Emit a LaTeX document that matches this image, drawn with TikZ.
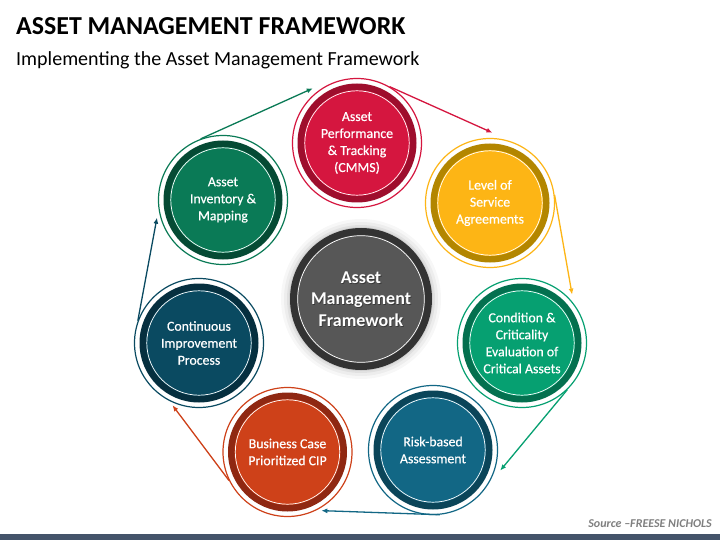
\documentclass[tikz,border=0pt]{standalone}
\usepackage{fontspec}
\setmainfont{Carlito}
\newfontfamily\lblfont{Carlito}[FakeBold=0.5]
\usetikzlibrary{arrows.meta,calc}
\definecolor{perfC}{HTML}{D5163F}\definecolor{perfD}{HTML}{9E0E2D}
\definecolor{levC}{HTML}{FDB515}\definecolor{levD}{HTML}{B38600}
\definecolor{condC}{HTML}{06A071}\definecolor{condD}{HTML}{04704F}
\definecolor{riskC}{HTML}{126785}\definecolor{riskD}{HTML}{0B4559}
\definecolor{busC}{HTML}{CE4119}\definecolor{busD}{HTML}{8F2812}
\definecolor{contC}{HTML}{0A4A61}\definecolor{contD}{HTML}{062F3F}
\definecolor{invC}{HTML}{0A7A56}\definecolor{invD}{HTML}{054A34}
\definecolor{ctrC}{HTML}{575757}\definecolor{ctrD}{HTML}{333333}
\definecolor{barC}{HTML}{44546A}\definecolor{srcC}{HTML}{7F7F7F}
\tikzset{
  outring/.style={circle, minimum size=129pt, inner sep=0pt, line width=1.2pt},
  lbl/.style={text=white, align=center, font=\lblfont\fontsize{13.8}{17}\selectfont},
  arr/.style={draw=#1, line width=1.3pt, -{Latex[length=6pt,width=5pt]}},
}
\newcommand\mkring[5]{%
  \node[outring, draw=#3] (#1) at #2 {};
  \fill[#4] (#1.center) circle (59.5);
  \fill[#3] (#1.center) circle (53);
  \draw[white, line width=0.7pt] (#1.center) circle (52.2);
  \node[lbl] (#1-t) at (#1.center) {#5};
}
\begin{document}
\begin{tikzpicture}[x=1pt,y=-1pt]
\useasboundingbox (0,0) rectangle (720,540);
\fill[white] (0,0) rectangle (720,540);
% title
\node[anchor=base west, inner sep=0pt, font=\fontsize{25.9}{30}\selectfont\bfseries] (title) at (16,35) {ASSET MANAGEMENT FRAMEWORK};
\node[anchor=base west, inner sep=0pt, font=\fontsize{20}{24}\selectfont] (subtitle) at (16,66) {Implementing the Asset Management Framework};
% center
\coordinate (ctrpos) at (361,299);
\foreach \r/\o in {80/0.03,77/0.04,74/0.05,72/0.06}{\fill[black, opacity=\o] (ctrpos) circle (\r);}
\node[circle, minimum size=142pt, inner sep=0pt, fill=ctrD] (ctr) at (ctrpos) {};
\fill[ctrC] (ctr.center) circle (64);
\draw[white, line width=0.7pt] (ctr.center) circle (63.3);
\node[text=black, opacity=0.35, align=center, font=\fontsize{18}{21.5}\selectfont\bfseries] (ctr-s) at ($(ctr.center)+(0.8,0.8)$) {Asset\\Management\\Framework};
\node[text=white, align=center, font=\fontsize{18}{21.5}\selectfont\bfseries] (ctr-t) at (ctr.center) {Asset\\Management\\Framework};
% ring circles
\mkring{perf}{(357,143)}{perfC}{perfD}{Asset\\Performance\\\& Tracking\\(CMMS)}
\mkring{lev}{(490,203)}{levC}{levD}{Level of\\Service\\Agreements}
\mkring{cond}{(522,343)}{condC}{condD}{Condition \&\\Criticality\\Evaluation of\\Critical Assets}
\mkring{risk}{(433,450)}{riskC}{riskD}{Risk-based\\Assessment}
\mkring{bus}{(287.5,452)}{busC}{busD}{Business Case\\Prioritized CIP}
\mkring{cont}{(199,343)}{contC}{contD}{Continuous\\Improvement\\Process}
\mkring{inv}{(223,200)}{invC}{invD}{Asset\\Inventory \&\\Mapping}
% arrows
\draw[arr=invC] (inv.110) -- ($(perf.center)!1.08!(perf.129)$);
\draw[arr=perfC] (perf.60) -- ($(lev.center)!1.08!(lev.88)$);
\draw[arr=levC] (lev.7) -- ($(cond.center)!1.07!(cond.44)$);
\draw[arr=condC] (cond.-46) -- ($(risk.center)!1.08!(risk.-17)$);
\draw[arr=riskC] (risk.-84) -- ($(bus.center)!1.04!(bus.-60)$);
\draw[arr=busC] (bus.-154) -- ($(cont.center)!1.04!(cont.-113)$);
\draw[arr=contC] (cont.160) -- ($(inv.center)!1.05!(inv.-165)$);
% source and bar
\node[anchor=base east, inner sep=0pt, text=srcC, font=\fontsize{12}{14}\selectfont\bfseries\itshape] (src) at (712,527) {Source –FREESE NICHOLS};
\fill[barC] (0,534) rectangle (720,540);
\end{tikzpicture}
\end{document}
